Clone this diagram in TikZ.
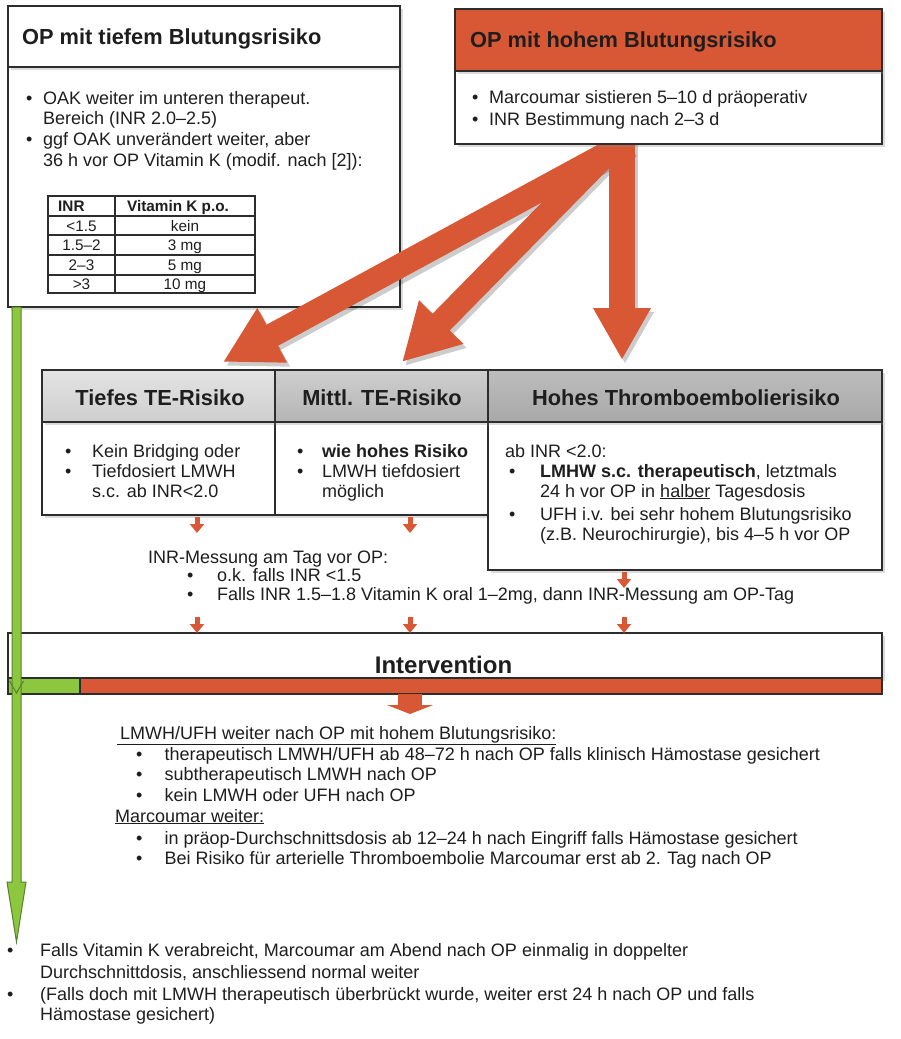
\documentclass[tikz,border=0pt]{standalone}
\usepackage{fontspec}
\setmainfont{Liberation Sans}
\usetikzlibrary{arrows.meta,shadows,calc}
\pgfdeclarelayer{bottom}
\pgfdeclarelayer{low}
\pgfdeclarelayer{bg}
\pgfsetlayers{bottom,low,bg,main}
\definecolor{orng}{RGB}{216,88,54}
\definecolor{grn}{RGB}{141,198,63}
\definecolor{dgrn}{RGB}{85,130,45}
\definecolor{txt}{RGB}{30,30,30}
\definecolor{frame}{RGB}{45,45,45}
\begin{document}
\begin{tikzpicture}[x=1pt,y=-1pt,
  box/.style={draw=frame, line width=1.4pt, fill=white, anchor=north west, inner sep=0pt, outer sep=0pt},
  shad/.style={drop shadow={shadow xshift=3pt,shadow yshift=-3pt,opacity=.28}},
  ttl/.style={anchor=base west, inner sep=0pt, font=\fontsize{21.8}{25}\selectfont\bfseries, text=txt},
  ctl/.style={anchor=base, inner sep=0pt, font=\fontsize{21.8}{25}\selectfont\bfseries, text=txt},
  tx/.style={anchor=base west, inner sep=0pt, font=\fontsize{18}{21}\selectfont, text=txt},
  tb/.style={anchor=base, inner sep=0pt, font=\fontsize{15.3}{17}\selectfont, text=txt},
  tline/.style={draw=frame, line width=1.2pt},
  bigv/.style={draw=orng, line width=26pt, -{Triangle[width=54pt,length=52pt]}},
  bigd/.style={draw=orng, line width=24pt, -{Triangle[width=58pt,length=56pt]}},
  bigvs/.style={draw=black, opacity=.2, line width=26pt, -{Triangle[width=54pt,length=52pt]}},
  bigds/.style={draw=black, opacity=.2, line width=24pt, -{Triangle[width=58pt,length=56pt]}},
  smallarr/.style={draw=orng, line width=5pt, -{Triangle[width=14pt,length=9pt]}},
  widearr/.style={draw=orng, line width=24pt, -{Triangle[width=46pt,length=9pt]}},
]
\begin{pgfonlayer}{bottom}
\fill[white] (0,0) rectangle (900,1039);
\end{pgfonlayer}
\useasboundingbox (0,0) rectangle (900,1039);

% ---------- top-left ----------
\begin{pgfonlayer}{low}
\node[box, shad, minimum width=392pt, minimum height=240pt] (tlB) at (8,67) {};
\node[box, shad, minimum width=392pt, minimum height=61pt] (tlT) at (8,6) {};
\node[ttl] (tlTt) at (22,44) {OP mit tiefem Blutungsrisiko};
\node[tx] (tlb1) at (26,104) {•};
\node[tx] (tl1) at (43,104) {OAK weiter im unteren therapeut.};
\node[tx] (tl2) at (43,124.5) {Bereich (INR 2.0–2.5)};
\node[tx] (tlb2) at (26,145) {•};
\node[tx] (tl3) at (43,145) {ggf OAK unverändert weiter, aber};
\node[tx] (tl4) at (43,166) {36 h vor OP Vitamin K (modif. nach [2]):};

% table
\node[box, line width=1.2pt, minimum width=207pt, minimum height=97pt] (tab) at (48,196) {};
\draw[tline] ($(tab.north west)+(0,20)$) -- ($(tab.north east)+(0,20)$);
\draw[tline] ($(tab.north west)+(0,39)$) -- ($(tab.north east)+(0,39)$);
\draw[tline] ($(tab.north west)+(0,59)$) -- ($(tab.north east)+(0,59)$);
\draw[tline] ($(tab.north west)+(0,79)$) -- ($(tab.north east)+(0,79)$);
\draw[tline] ($(tab.north west)+(67,0)$) -- ($(tab.south west)+(67,0)$);
\node[tb, anchor=base west, font=\fontsize{15.3}{17}\selectfont\bfseries] (th1) at (58,211.5) {INR};
\node[tb, font=\fontsize{15.3}{17}\selectfont\bfseries] (th2) at (178,211.5) {Vitamin K p.o.};
\node[tb] (r1a) at (81.5,231) {<1.5};
\node[tb] (r1b) at (185,231) {kein};
\node[tb] (r2a) at (81.5,250.5) {1.5–2};
\node[tb] (r2b) at (185,250.5) {3 mg};
\node[tb] (r3a) at (81.5,270) {2–3};
\node[tb] (r3b) at (185,270) {5 mg};
\node[tb] (r4a) at (81.5,289) {>3};
\node[tb] (r4b) at (185,289) {10 mg};
\end{pgfonlayer}

% ---------- top-right ----------
\node[box, shad, minimum width=427pt, minimum height=73pt] (trB) at (455,71) {};
\node[box, shad, fill=orng, minimum width=427pt, minimum height=62pt] (trT) at (455,9) {};
\node[ttl] (trTt) at (470,47) {OP mit hohem Blutungsrisiko};
\node[tx] (trb1) at (472,103.5) {•};
\node[tx] (tr1) at (489,103.5) {Marcoumar sistieren 5–10 d präoperativ};
\node[tx] (trb2) at (472,125) {•};
\node[tx] (tr2) at (489,125) {INR Bestimmung nach 2–3 d};

% ---------- middle row ----------
\node[box, shad, minimum width=233pt, minimum height=93pt] (tB) at (42,422) {};
\node[box, shad, minimum width=213pt, minimum height=93pt] (mB) at (275,422) {};
\node[box, shad, minimum width=394pt, minimum height=148pt] (hB) at (488,422) {};
\node[box, shad, top color=gray!22, bottom color=gray!38, minimum width=233pt, minimum height=52pt] (tT) at (42,370) {};
\node[box, shad, top color=gray!38, bottom color=gray!58, minimum width=213pt, minimum height=52pt] (mT) at (275,370) {};
\node[box, shad, top color=gray!52, bottom color=gray!68, minimum width=394pt, minimum height=52pt] (hT) at (488,370) {};
\node[ctl] (tTt) at (160,405) {Tiefes TE-Risiko};
\node[ctl] (mTt) at (382,405) {Mittl. TE-Risiko};
\node[ctl] (hTt) at (686,405) {Hohes Thromboembolierisiko};

\node[tx] (tbb1) at (65,457) {•};
\node[tx] (tb1) at (92,457) {Kein Bridging oder};
\node[tx] (tbb2) at (65,477) {•};
\node[tx] (tb2) at (92,477) {Tiefdosiert LMWH};
\node[tx] (tb3) at (92,497) {s.c. ab INR<2.0};

\node[tx] (mbb1) at (297,457) {•};
\node[tx, font=\fontsize{18}{21}\selectfont\bfseries] (mb1) at (322,457) {wie hohes Risiko};
\node[tx] (mbb2) at (297,477) {•};
\node[tx] (mb2) at (322,477) {LMWH tiefdosiert};
\node[tx] (mb3) at (322,497) {möglich};

\node[tx] (hb0) at (505,457) {ab INR <2.0:};
\node[tx] (hbb1) at (509,477) {•};
\node[tx] (hb1) at (540,477) {\textbf{LMHW s.c. therapeutisch}, letztmals};
\node[tx] (hb2) at (540,497) {24 h vor OP in \underline{halber} Tagesdosis};
\node[tx] (hbb2) at (509,520) {•};
\node[tx] (hb3) at (540,520) {UFH i.v. bei sehr hohem Blutungsrisiko};
\node[tx] (hb4) at (540,540) {(z.B. Neurochirurgie), bis 4–5 h vor OP};

% INR measurement text
\node[tx] (inr0) at (148,563) {INR-Messung am Tag vor OP:};
\node[tx] (inrb1) at (187,581) {•};
\node[tx] (inr1) at (217,581) {o.k. falls INR <1.5};
\node[tx] (inrb2) at (187,600) {•};
\node[tx] (inr2) at (217,600) {Falls INR 1.5–1.8 Vitamin K oral 1–2mg, dann INR-Messung am OP-Tag};

% ---------- intervention ----------
\node[box, shad, minimum width=874pt, minimum height=45pt] (iv) at (8,633) {};
\node[box, fill=grn, minimum width=72pt, minimum height=16pt] (ivg) at (8,678) {};
\node[box, fill=orng, minimum width=802pt, minimum height=16pt] (ivr) at (80,678) {};
\node[ctl, font=\fontsize{24}{28}\selectfont\bfseries] (ivt) at (443.5,673) {Intervention};

% small arrows
\draw[smallarr] ($(tB.south west)+(155,2)$) -- ($(tB.south west)+(155,18)$);
\draw[smallarr] ($(mB.south west)+(135,2)$) -- ($(mB.south west)+(135,18)$);
\draw[smallarr] ($(hB.south west)+(136,2)$) -- ($(hB.south west)+(136,18)$);
\draw[smallarr] ($(iv.north west)+(189,-16)$) -- ($(iv.north west)+(189,0)$);
\draw[smallarr] ($(iv.north west)+(402,-16)$) -- ($(iv.north west)+(402,0)$);
\draw[smallarr] ($(iv.north west)+(616,-16)$) -- ($(iv.north west)+(616,0)$);
\draw[widearr] ($(ivr.south west)+(330,0)$) -- ($(ivr.south west)+(330,20)$);

% ---------- after intervention ----------
\node[tx] (a0) at (117,739) {\underline{\hspace{3pt}LMWH/UFH weiter nach OP mit hohem Blutungsrisiko:}};
\node[tx] (ab1) at (136,760) {•};
\node[tx] (a1) at (164.5,760) {therapeutisch LMWH/UFH ab 48–72 h nach OP falls klinisch Hämostase gesichert};
\node[tx] (ab2) at (136,780.5) {•};
\node[tx] (a2) at (164.5,780.5) {subtherapeutisch LMWH nach OP};
\node[tx] (ab3) at (136,801) {•};
\node[tx] (a3) at (164.5,801) {kein LMWH oder UFH nach OP};
\node[tx] (a4) at (115,822) {\underline{Marcoumar weiter:}};
\node[tx] (ab5) at (136,844) {•};
\node[tx] (a5) at (164.5,844) {in präop-Durchschnittsdosis ab 12–24 h nach Eingriff falls Hämostase gesichert};
\node[tx] (ab6) at (136,864) {•};
\node[tx] (a6) at (164.5,864) {Bei Risiko für arterielle Thromboembolie Marcoumar erst ab 2. Tag nach OP};

% bottom
\node[tx] (bb1) at (7,956) {•};
\node[tx] (b1) at (40,956) {Falls Vitamin K verabreicht, Marcoumar am Abend nach OP einmalig in doppelter};
\node[tx] (b2) at (40,978) {Durchschnittdosis, anschliessend normal weiter};
\node[tx] (bb2) at (7,1000) {•};
\node[tx] (b3) at (40,1000) {(Falls doch mit LMWH therapeutisch überbrückt wurde, weiter erst 24 h nach OP und falls};
\node[tx] (b4) at (40,1020) {Hämostase gesichert)};

% ---------- green arrow ----------
\coordinate (gs) at ($(tlB.south west)+(8.5,0)$);
\coordinate (ge) at ($(b1.base west)+(-23.5,-14)$);
\filldraw[fill=grn, draw=dgrn, line width=1pt]
  ($(gs)+(-4.5,0)$) -- ($(ge)+(-4.5,-60)$) -- ($(ge)+(-9.5,-60)$) -- (ge)
  -- ($(ge)+(9.5,-60)$) -- ($(ge)+(4.5,-60)$) -- ($(gs)+(4.5,0)$) -- cycle;
\draw[dgrn, line width=1pt] ($(ivg.north west)+(1.5,3)$) -- ($(ivg.south west)+(8.5,-1)$) -- ($(ivg.north west)+(15.5,3)$);

% ---------- big orange arrows (above the left box, below the right box) ----------
\begin{pgfonlayer}{bg}
\begin{scope}[transform canvas={shift={(3pt,-4pt)}}]
\draw[bigds] ($(trB.south west)+(173,-2)$) -- ($(tT.north west)+(181,-8)$);
\draw[bigds] ($(trB.south west)+(163,-2)$) -- ($(mT.north west)+(127,-8)$);
\draw[bigvs] ($(trB.south west)+(167,-4)$) -- ($(hT.north west)+(134,-10)$);
\end{scope}
\draw[bigd] ($(trB.south west)+(173,-2)$) -- ($(tT.north west)+(181,-8)$);
\draw[bigd] ($(trB.south west)+(163,-2)$) -- ($(mT.north west)+(127,-8)$);
\draw[bigv] ($(trB.south west)+(167,-4)$) -- ($(hT.north west)+(134,-10)$);
\end{pgfonlayer}
\end{tikzpicture}
\end{document}
